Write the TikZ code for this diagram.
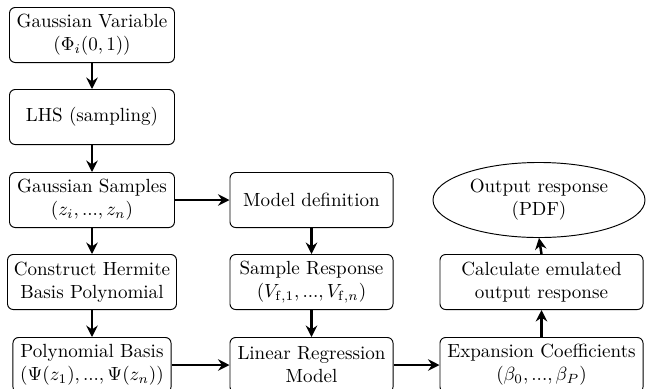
\documentclass[tikz,border=0pt]{standalone}
\usetikzlibrary{shapes.geometric,arrows.meta}
\begin{document}
\begin{tikzpicture}[x=0.525pt,y=-0.525pt,
 box/.style={draw,rounded corners=3pt,align=center,minimum height=28.9pt,inner sep=1.5pt,line width=0.5pt},
 c1/.style={box,minimum width=86.6pt},
 c2/.style={box,minimum width=85.6pt},
 c3/.style={box,minimum width=106.6pt},
 arr/.style={line width=1.3pt,-{Stealth[length=6pt,width=6pt,inset=2pt]}}]
\clip (0,0) rectangle (646,388);
\node[c1] (gv) at (92,35) {Gaussian Variable\\$(\Phi_i(0,1))$};
\node[c1] (lhs) at (92,117) {LHS (sampling)};
\node[c1] (gs) at (92,200) {Gaussian Samples\\$(z_i,...,z_n)$};
\node[box,minimum width=88.7pt] (ch) at (92,282) {Construct Hermite\\Basis Polynomial};
\node[box,minimum width=83pt] (pb) at (92,365) {Polynomial Basis\\$(\Psi(z_1),...,\Psi(z_n))$};
\node[c2] (md) at (311.5,200) {Model definition};
\node[c2] (sr) at (311.5,282) {Sample Response\\$(V_{\mathrm{f},1},...,V_{\mathrm{f},n})$};
\node[c2] (lr) at (311.5,365) {Linear Regression\\Model};
\node[c3] (ec) at (541.5,365) {Expansion Coefficients\\$(\beta_0,...,\beta_P)$};
\node[c3] (ce) at (541.5,282) {Calculate emulated\\output response};
\node[draw,ellipse,inner sep=0pt,minimum width=111.3pt,minimum height=39.4pt,align=center,line width=0.5pt] (out) at (539,200) {Output response\\(PDF)};
\draw[arr] (gv) -- (lhs);
\draw[arr] (lhs) -- (gs);
\draw[arr] (gs) -- (ch);
\draw[arr] (ch) -- (pb);
\draw[arr] (gs) -- (md);
\draw[arr] (md) -- (sr);
\draw[arr] (sr) -- (lr);
\draw[arr] (pb) -- (lr);
\draw[arr] (lr) -- (ec);
\draw[arr] (ec) -- (ce);
\draw[arr] (ce.north) -- (out.south);
\end{tikzpicture}
\end{document}
